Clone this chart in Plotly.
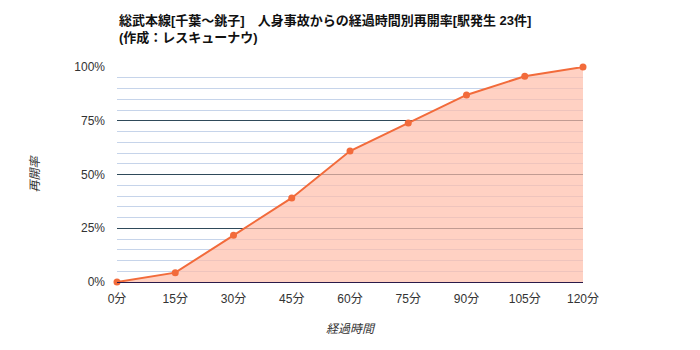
import plotly.graph_objects as go

minutes = [0, 15, 30, 45, 60, 75, 90, 105, 120]
tick_labels = ["0分", "15分", "30分", "45分", "60分", "75分", "90分", "105分", "120分"]
rate = [0.0, 4.35, 21.7, 39.1, 60.9, 73.9, 87.0, 95.7, 100.0]
y_ticks = [0, 25, 50, 75, 100]
y_tick_labels = ["0%", "25%", "50%", "75%", "100%"]

title_text = "<b>総武本線[千葉～銚子]　人身事故からの経過時間別再開率[駅発生 23件]<br>(作成：レスキューナウ)</b>"

FONT = "Liberation Sans, Arial, Noto Sans CJK JP, sans-serif"

fig = go.Figure()
fig.add_trace(go.Scatter(
    x=minutes, y=rate, mode="lines+markers",
    line=dict(color="#f26b3b", width=2),
    marker=dict(color="#f26b3b", size=7),
    fill="tozeroy", fillcolor="rgba(255,190,170,0.7)",
    cliponaxis=False, hoverinfo="skip",
))

fig.add_annotation(
    text=title_text, xref="paper", yref="paper", x=0, y=1 + (67 - 11) / 215,
    xanchor="left", yanchor="top", align="left", showarrow=False,
    font=dict(family=FONT, size=13, color="#111111"),
)

fig.update_layout(
    width=700, height=350,
    margin=dict(l=117, r=117, t=67, b=68),
    paper_bgcolor="white", plot_bgcolor="white",
    showlegend=False,
    font=dict(family=FONT, size=12, color="#333333"),
    xaxis=dict(range=[0, 120], tickvals=minutes, ticktext=tick_labels,
               showgrid=False, zeroline=False, showline=True, linecolor="#2a1a4a", linewidth=1,
               tickfont=dict(size=12, color="#333333"), ticks="", ticklabelstandoff=6,
               title=dict(text="<i>経過時間</i>", standoff=19, font=dict(size=12, color="#333333"))),
    yaxis=dict(range=[0, 100], tickvals=y_ticks, ticktext=y_tick_labels,
               showgrid=True, gridcolor="#2f4a5a", gridwidth=1, zeroline=False,
               minor=dict(dtick=5, showgrid=True, gridcolor="#c6d4ea", gridwidth=1),
               tickfont=dict(size=12, color="#333333"), ticks="", ticklabelstandoff=11,
               title=dict(text="<i>再開率</i>", standoff=32, font=dict(size=12, color="#333333"))),
)

fig.write_html("out.html")
